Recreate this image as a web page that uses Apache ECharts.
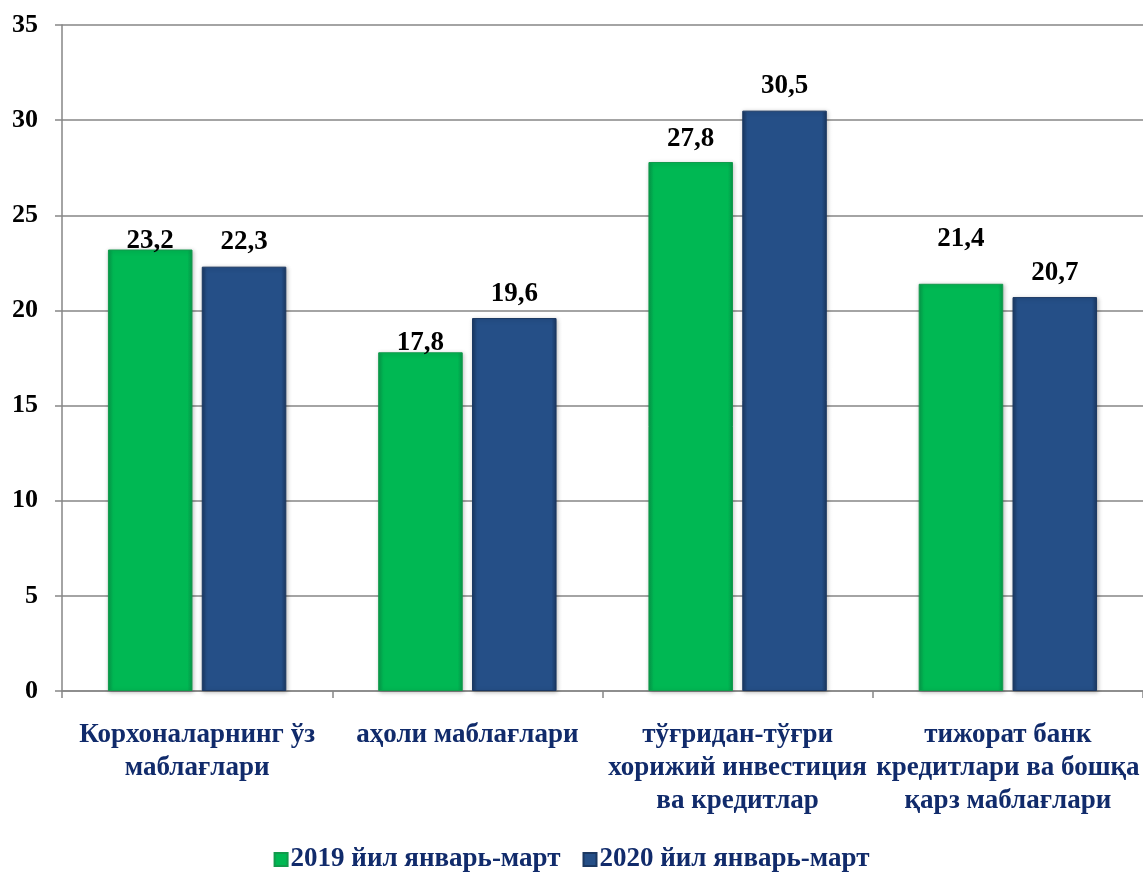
<!DOCTYPE html>
<html>
<head>
<meta charset="utf-8">
<script src="https://cdn.jsdelivr.net/npm/echarts@6/dist/echarts.min.js"></script>
<style>html,body{margin:0;padding:0;background:#fff}#c{width:1143px;height:872px}</style>
</head>
<body>
<div id="c"></div>
<script>
const categories = ["Корхоналарнинг ўз\nмаблағлари", "аҳоли маблағлари", "тўғридан-тўғри\nхорижий инвестиция\nва кредитлар", "тижорат банк\nкредитлари ва бошқа\nқарз маблағлари"];
const seriesNames = ["2019 йил январь-март", "2020 йил январь-март"];
const values2019 = [23.2, 17.8, 27.8, 21.4];
const values2020 = [22.3, 19.6, 30.5, 20.7];
const yTicks = [0, 5, 10, 15, 20, 25, 30, 35];
// label lift above bar top (style only)
const lift2019 = [-5, -4, 9, 31];
const lift2020 = [11, 11, 11, 11];

const FONT = "'Liberation Serif','Times New Roman',serif";
const NAVY = "#112b6b";

function grad(mid, dark) {
  return new echarts.graphic.LinearGradient(0, 0, 1, 0, [
    {offset: 0, color: dark}, {offset: 0.06, color: mid}, {offset: 0.94, color: mid}, {offset: 1, color: dark}
  ]);
}
function mkData(vals, lifts) {
  return vals.map((v, i) => ({value: v, label: {distance: lifts[i]}}));
}
const labelCfg = {
  show: true, position: 'top', color: '#000', fontFamily: FONT, fontWeight: 'bold', fontSize: 27,
  formatter: p => String(p.value).replace('.', ',')
};
const chart = echarts.init(document.getElementById('c'), null, {renderer: 'canvas'});
chart.setOption({
  animation: false,
  backgroundColor: '#fff',
  grid: {left: 62, right: 0, top: 25, bottom: 181},
  legend: {
    bottom: -6, left: 'center', itemWidth: 13, itemHeight: 13, itemGap: 22, icon: 'rect',
    textStyle: {color: NAVY, fontFamily: FONT, fontWeight: 'bold', fontSize: 27, padding: [0, 0, 0, -2]},
    data: seriesNames
  },
  xAxis: {
    type: 'category', data: categories,
    axisLine: {lineStyle: {color: '#868686', width: 1.5}},
    axisTick: {show: true, length: 7, lineStyle: {color: '#868686', width: 1.5}},
    axisLabel: {color: NAVY, fontFamily: FONT, fontWeight: 'bold', fontSize: 27, lineHeight: 33, margin: 28, interval: 0}
  },
  yAxis: {
    type: 'value', min: 0, max: 35, interval: 5,
    axisLine: {show: true, lineStyle: {color: '#868686', width: 1.5}},
    axisTick: {show: true, length: 7, lineStyle: {color: '#868686', width: 1.5}},
    splitLine: {lineStyle: {color: '#868686', width: 1.5}},
    axisLabel: {color: '#000', fontFamily: FONT, fontWeight: 'bold', fontSize: 26, margin: 24,
      formatter: v => yTicks.includes(v) ? String(v) : ''}
  },
  series: [
    {
      name: seriesNames[0], type: 'bar', data: mkData(values2019, lift2019),
      barCategoryGap: '34%', barGap: '11%',
      itemStyle: {color: grad('#00b853', '#08994a'), borderColor: '#129a4c', borderWidth: 1,
        shadowColor: 'rgba(0,0,0,0.25)', shadowBlur: 4, shadowOffsetX: 1, shadowOffsetY: 1},
      label: labelCfg
    },
    {
      name: seriesNames[1], type: 'bar', data: mkData(values2020, lift2020),
      itemStyle: {color: grad('#254f87', '#1b3862'), borderColor: '#1b3862', borderWidth: 1,
        shadowColor: 'rgba(0,0,0,0.25)', shadowBlur: 4, shadowOffsetX: 1, shadowOffsetY: 1},
      label: labelCfg
    }
  ]
});
</script>
</body>
</html>
